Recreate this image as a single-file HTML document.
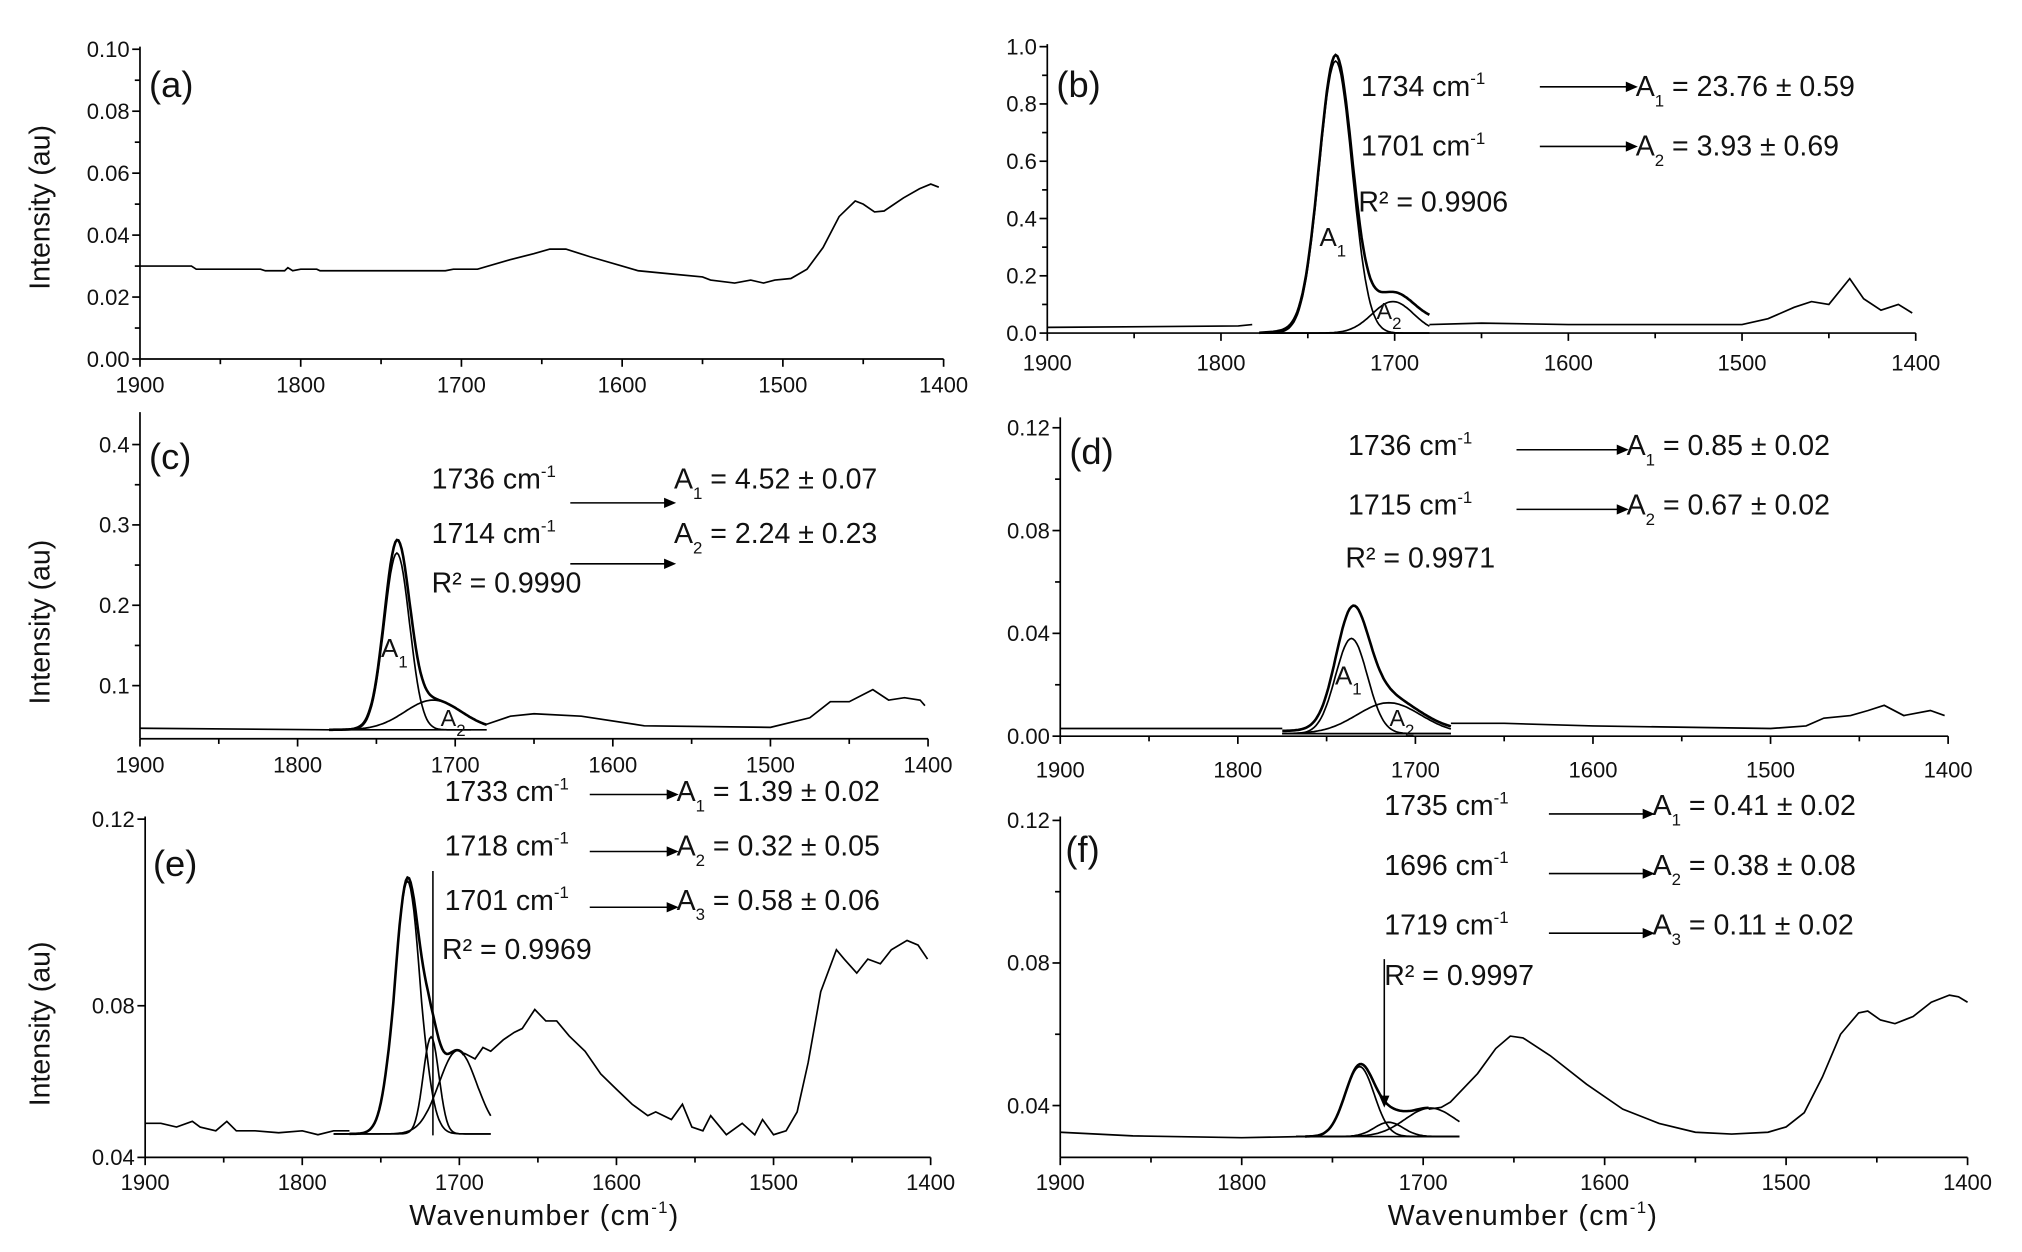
<!DOCTYPE html>
<html><head><meta charset="utf-8"><style>
html,body{margin:0;padding:0;background:#fff;width:2022px;height:1252px;overflow:hidden}
svg{display:block}
text{font-family:"Liberation Sans",sans-serif;fill:#111}
</style></head><body>
<svg id="s" width="2022" height="1252" viewBox="0 0 1560 966" preserveAspectRatio="none" xmlns="http://www.w3.org/2000/svg">
<g id="g" fill="none" stroke="#000" stroke-width="1.3"></g>
</svg>
<script>
var NS="http://www.w3.org/2000/svg",G=document.getElementById('g');
function el(t,a,txt){var e=document.createElementNS(NS,t);for(var k in a)e.setAttribute(k,a[k]);if(txt!=null)e.textContent=txt;G.appendChild(e);return e;}
function line(x1,y1,x2,y2,w){el('line',{x1:x1,y1:y1,x2:x2,y2:y2,'stroke-width':w||1.3});}
function txt(x,y,s,size,anchor){var t=el('text',{x:x,y:y,'font-size':size||17,'text-anchor':anchor||'start',stroke:'none'});t.innerHTML=s;return t;}
function gs(w,c,h,s){return h*Math.exp(-(w-c)*(w-c)/(2*s*s));}
function path(pts,X,Y,w){var d='';pts.forEach(function(p,i){d+=(i?'L':'M')+X(p[0]).toFixed(1)+' '+Y(p[1]).toFixed(1);});el('path',{d:d,'stroke-width':w||1.3});}
function fn(f,a,b,X,Y,w){var p=[];for(var x=a;x>=b;x-=1)p.push([x,f(x)]);path(p,X,Y,w);}
function axes(X,Y,x0,x1,yb,yt,yt0,yticks,ylabels,xlblY){
 line(X(1900),yt0,X(1900),yb);line(X(1900),yb,X(1400),yb);
 for(var w=1900;w>=1400;w-=50){line(X(w),yb,X(w),yb+(w%100==0?6:4));if(w%100==0)txt(X(w),xlblY,w,17,'middle');}
 yticks.forEach(function(t){line(X(1900)-(t[2]?6:4),Y(t[0]),X(1900),Y(t[0]));if(t[2])txt(X(1900)-8,Y(t[0])+6,t[1],17,'end');});
}
function ann(x,y,a,b,ax1,ax2,ay,head){txt(x,y,a,22);if(b)txt(ax2,y,b,22);line(ax1,ay,ax2-2,ay,1.2);el('path',{d:'M'+(ax2-7)+' '+(ay-3)+'L'+(ax2)+' '+ay+'L'+(ax2-7)+' '+(ay+3)+'Z',fill:'#000'});}
var cm=' cm<tspan dy="-9" font-size="13">-1</tspan>';
function A(n,rest){return 'A<tspan dy="8" font-size="13">'+n+'</tspan><tspan dy="-8">'+rest+'</tspan>';}
function ytk(lo,hi,maj,min,fmt){var r=[];for(var v=lo;v<=hi+1e-9;v+=min){var isM=Math.abs(Math.round((v-lo)/maj)*maj-(v-lo))<1e-9;r.push([v,isM?v.toFixed(fmt):'',isM]);}return r;}
// (a)
(function(){var X=function(w){return 108+(1900-w)*1.24},Y=function(v){return 277-v*2390};
axes(X,Y,0,0,277,38,36,ytk(0,0.1,0.02,0.01,2),0,303);
path([[1900,.030],[1868,.030],[1865,.029],[1825,.029],[1822,.0285],[1810,.0285],[1808,.0295],[1805,.0285],[1800,.029],[1790,.029],[1788,.0285],[1710,.0285],[1705,.029],[1690,.029],[1670,.032],[1655,.034],[1645,.0355],[1635,.0355],[1620,.033],[1600,.030],[1590,.0285],[1570,.0275],[1550,.0265],[1545,.0255],[1530,.0245],[1520,.0255],[1512,.0245],[1505,.0255],[1495,.026],[1485,.029],[1475,.036],[1465,.046],[1455,.051],[1450,.050],[1443,.0475],[1437,.0478],[1425,.052],[1415,.055],[1408,.0565],[1403,.0555]],X,Y);
txt(115,75,'(a)',28);})();
// (b)
(function(){var X=function(w){return 808+(1900-w)*1.34},Y=function(v){return 257-v*221};
axes(X,Y,0,0,257,36,34,ytk(0,1,0.2,0.1,1),0,286);
path([[1900,.02],[1790,.025],[1782,.03]],X,Y);
var f1=function(w){return gs(w,1734,0.95,9.5)},f2=function(w){return gs(w,1701,0.11,12)};
fn(function(w){return f1(w)+f2(w)+0.01*(1780-w)/100*4},1778,1680,X,Y,2);
fn(f1,1778,1680,X,Y);fn(f2,1778,1680,X,Y);line(X(1778),Y(0),X(1680),Y(0));
path([[1680,.03],[1650,.035],[1600,.03],[1500,.03],[1485,.05],[1470,.09],[1460,.11],[1450,.1],[1438,.19],[1430,.12],[1420,.08],[1410,.1],[1402,.07]],X,Y);
txt(815,75,'(b)',28);
ann(1050,74,'1734'+cm,A(1,' = 23.76 ± 0.59'),1188,1262,67);
ann(1050,120,'1701'+cm,A(2,' =  3.93 ±  0.69'),1188,1262,113);
txt(1048,163,'R² = 0.9906',22);txt(1018,190,A(1,''),20);txt(1062,246,A(2,''),18);})();
// (c)
(function(){var X=function(w){return 108+(1900-w)*1.216},Y=function(v){return 591-v*620};
axes(X,Y,0,0,570,320,318,[[0.1,'0.1',1],[0.15,'',0],[0.2,'0.2',1],[0.25,'',0],[0.3,'0.3',1],[0.35,'',0],[0.4,'0.4',1]],0,596);
var f1=function(w){return gs(w,1737,0.22,8)},f2=function(w){return gs(w,1714,0.037,18)};
path([[1900,.047],[1780,.045]],X,Y);
fn(function(w){return .045+f1(w)+f2(w)},1780,1680,X,Y,2);
fn(function(w){return .045+f1(w)},1780,1690,X,Y);fn(function(w){return .045+f2(w)},1780,1680,X,Y);line(X(1780),Y(.045),X(1680),Y(.045));
path([[1680,.052],[1665,.062],[1650,.065],[1620,.062],[1580,.05],[1500,.048],[1475,.06],[1462,.08],[1450,.08],[1435,.095],[1425,.082],[1415,.085],[1405,.082],[1402,.075]],X,Y);
txt(115,362,'(c)',28);
txt(333,377,'1736'+cm,22);txt(520,377,A(1,' =  4.52 ± 0.07'),22);
txt(333,419,'1714'+cm,22);txt(520,419,A(2,' = 2.24 ± 0.23'),22);
txt(333,457,'R² = 0.9990',22);
line(440,388,518,388,1.2);line(440,435,518,435,1.2);
el('path',{d:'M513 385L520 388L513 391Z',fill:'#000'});el('path',{d:'M513 432L520 435L513 438Z',fill:'#000'});
txt(294,507,A(1,''),20);txt(340,560,A(2,''),18);})();
// (d)
(function(){var X=function(w){return 818+(1900-w)*1.37},Y=function(v){return 568-v*1983};
axes(X,Y,0,0,568,330,322,ytk(0,0.12,0.04,0.02,2),0,600);
var f1=function(w){return gs(w,1736,0.037,9)},f2=function(w){return gs(w,1715,0.012,18)};
path([[1900,.003],[1775,.003]],X,Y);
fn(function(w){return .002+f1(w)+f2(w)+0.006*Math.exp(-(w-1730)*(w-1730)/300)},1775,1680,X,Y,2);
fn(function(w){return .001+f1(w)},1775,1680,X,Y);fn(function(w){return .001+f2(w)},1775,1680,X,Y);line(X(1775),Y(.001),X(1680),Y(.001));
path([[1680,.005],[1650,.005],[1600,.004],[1500,.003],[1480,.004],[1470,.007],[1455,.008],[1445,.01],[1436,.012],[1425,.008],[1410,.01],[1402,.008]],X,Y);
txt(825,358,'(d)',28);
ann(1040,351,'1736'+cm,A(1,' = 0.85 ± 0.02'),1170,1255,347);
ann(1040,397,'1715'+cm,A(2,' = 0.67 ± 0.02'),1170,1255,393);
txt(1038,438,'R² = 0.9971',22);txt(1030,528,A(1,''),20);txt(1072,560,A(2,''),18);})();
// (e)
(function(){var X=function(w){return 112+(1900-w)*1.212},Y=function(v){return v>=.08?776-(v-.08)/.04*144:776+(.08-v)/.04*117};
axes(X,Y,0,0,893,632,630,[[0.04,'0.04',1],[0.08,'0.08',1],[0.12,'0.12',1]],0,918);
var b=.0462,f1=function(w){return gs(w,1733,0.0605,8.5)},f2=function(w){return gs(w,1718,0.0256,5)},f3=function(w){return gs(w,1701,0.022,12)};
path([[1900,.049],[1890,.049],[1880,.048],[1870,.0495],[1865,.048],[1855,.047],[1848,.0495],[1842,.047],[1830,.047],[1815,.0465],[1800,.047],[1790,.046],[1780,.047],[1770,.047]],X,Y);
fn(function(w){return b+f1(w)+f3(w)+0.5*f2(w)},1770,1697,X,Y,2);
fn(function(w){return b+f1(w)},1780,1680,X,Y);fn(function(w){return b+f2(w)},1780,1680,X,Y);fn(function(w){return b+f3(w)},1780,1680,X,Y);
path([[1697,.0675],[1690,.066],[1685,.069],[1680,.068],[1672,.071],[1665,.073],[1660,.074],[1652,.079],[1645,.076],[1638,.076],[1630,.072],[1620,.068],[1610,.062],[1600,.058],[1590,.054],[1580,.051],[1575,.052],[1565,.05],[1558,.054],[1552,.048],[1545,.047],[1540,.051],[1530,.046],[1520,.049],[1512,.046],[1507,.05],[1500,.046],[1492,.047],[1485,.052],[1478,.065],[1470,.083],[1460,.092],[1455,.09],[1447,.087],[1440,.09],[1432,.089],[1425,.092],[1415,.094],[1408,.093],[1402,.09]],X,Y);
line(334,672,334,876,1.2);
txt(118,676,'(e)',28);
ann(343,618,'1733'+cm,A(1,' = 1.39 ± 0.02'),455,522,613);
ann(343,660,'1718'+cm,A(2,' = 0.32 ± 0.05'),455,522,657);
ann(343,702,'1701'+cm,A(3,' = 0.58 ± 0.06'),455,522,700);
txt(341,740,'R² = 0.9969',22);})();
// (f)
(function(){var X=function(w){return 818+(1900-w)*1.4},Y=function(v){return 853-(v-.04)*2750};
axes(X,Y,0,0,893,632,630,[[0.04,'0.04',1],[0.06,'',0],[0.08,'0.08',1],[0.10,'',0],[0.12,'0.12',1]],0,918);
var b=.0313,f1=function(w){return gs(w,1735,0.0196,8)},f2=function(w){return gs(w,1696,0.008,14)},f3=function(w){return gs(w,1719,0.004,8)};
path([[1900,.0325],[1860,.0315],[1800,.031],[1765,.0313]],X,Y);
fn(function(w){return b+f1(w)+f2(w)+f3(w)},1765,1697,X,Y,2);
fn(function(w){return b+f1(w)},1770,1680,X,Y);fn(function(w){return b+f2(w)},1770,1680,X,Y);fn(function(w){return b+f3(w)},1770,1680,X,Y);line(X(1770),Y(b),X(1680),Y(b));
path([[1697,.039],[1690,.0395],[1685,.041],[1670,.049],[1660,.056],[1652,.0595],[1645,.059],[1630,.054],[1610,.046],[1590,.039],[1570,.035],[1550,.0325],[1530,.032],[1510,.0325],[1500,.034],[1490,.038],[1480,.048],[1470,.06],[1460,.066],[1455,.0665],[1448,.064],[1440,.063],[1430,.065],[1420,.069],[1410,.071],[1405,.0705],[1400,.069]],X,Y);
line(1068,740,1068,852,1.2);el('path',{d:'M1065 846L1068 853L1071 846Z',fill:'#000'});
txt(822,665,'(f)',28);
ann(1068,629,'1735'+cm,A(1,' = 0.41 ± 0.02'),1195,1275,628);
ann(1068,675,'1696'+cm,A(2,' = 0.38 ± 0.08'),1195,1275,674);
ann(1068,721,'1719'+cm,A(3,' = 0.11 ± 0.02'),1195,1275,720);
txt(1068,760,'R² = 0.9997',22);})();
// axis titles
[[160,120],[480,125],[790,120]].forEach(function(p){var t=txt(0,0,'Intensity (au)',22,'middle');t.setAttribute('transform','translate(38,'+p[0]+') rotate(-90)');});
txt(420,945,'Wavenumber (cm<tspan dy="-9" font-size="13">-1</tspan><tspan dy="9">)</tspan>',22,'middle').setAttribute('letter-spacing','1');
txt(1175,945,'Wavenumber (cm<tspan dy="-9" font-size="13">-1</tspan><tspan dy="9">)</tspan>',22,'middle').setAttribute('letter-spacing','1');
</script>
</body></html>
